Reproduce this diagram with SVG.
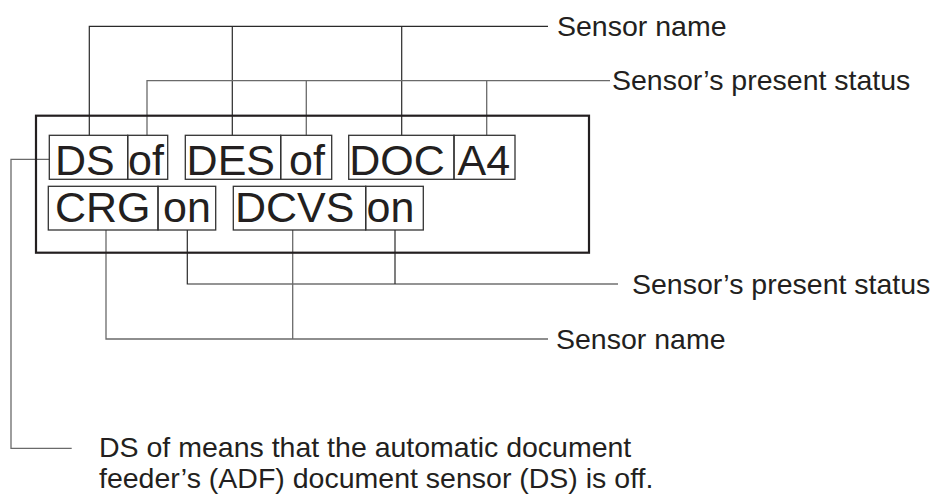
<svg xmlns="http://www.w3.org/2000/svg" width="936" height="502" viewBox="0 0 936 502">
<style>
.bg{fill:#ffffff}
.big{font-family:"Liberation Sans",Arial,sans-serif;font-size:43px;fill:#231f20}
.lbl{font-family:"Liberation Sans",Arial,sans-serif;font-size:28.5px;fill:#231f20}
.cell{fill:none;stroke:#333;stroke-width:1.3}
.frame{fill:none;stroke:#231f20;stroke-width:2.2}
.ln{fill:none;stroke:#2a2a2a;stroke-width:1.2}
.lg{fill:none;stroke:#6a6a6a;stroke-width:1.3}
</style>
<rect class="bg" x="0" y="0" width="936" height="502"/>
<g id="connectors">
  <path class="ln" d="M89.3,135.3 V26.3 H548 M232.3,26.3 V135.3 M401.7,26.3 V135.3"/>
  <path class="lg" d="M147,135.3 V80.7 H610 M306.3,80.7 V135.3 M486.7,80.7 V135.3"/>
  <path class="lg" d="M49.3,159.3 H11 V448.3 H71.7"/>
  <path class="ln" d="M187.3,230 V284 H618 M395,230 V284"/>
  <path class="lg" d="M106,230 V339 H548 M292.7,230 V339"/>
</g>
<g id="display">
  <rect class="frame" x="36" y="115.7" width="553" height="137"/>
</g>
<g id="ds">
  <rect class="cell" x="49.3" y="135.3" width="78.4" height="44"/>
  <text class="big" x="55" y="175">DS</text>
  <rect class="cell" x="127.7" y="135.3" width="40" height="44"/>
  <text class="big" x="128" y="175">of</text>
</g>
<g id="des">
  <rect class="cell" x="185.3" y="135.3" width="95.4" height="44"/>
  <text class="big" x="186.6" y="175">DES</text>
  <rect class="cell" x="280.7" y="135.3" width="51" height="44"/>
  <text class="big" x="289" y="175">of</text>
</g>
<g id="doc">
  <rect class="cell" x="348.7" y="135.3" width="105.3" height="44"/>
  <text class="big" x="349.3" y="175">DOC</text>
  <rect class="cell" x="454" y="135.3" width="61" height="44"/>
  <text class="big" x="457.5" y="175">A4</text>
</g>
<g id="crg">
  <rect class="cell" x="48.3" y="186.3" width="109.7" height="43.7"/>
  <text class="big" x="55" y="222">CRG</text>
  <rect class="cell" x="158" y="186.3" width="57.7" height="43.7"/>
  <text class="big" x="163" y="222">on</text>
</g>
<g id="dcvs">
  <rect class="cell" x="233.3" y="186.3" width="132.4" height="43.7"/>
  <text class="big" x="235" y="222">DCVS</text>
  <rect class="cell" x="365.7" y="186.3" width="57.6" height="43.7"/>
  <text class="big" x="366.6" y="222">on</text>
</g>
<g id="label-name-top"><text class="lbl" x="557" y="36">Sensor name</text></g>
<g id="label-status-top"><text class="lbl" x="612" y="90">Sensor’s present status</text></g>
<g id="label-status-bottom"><text class="lbl" x="632" y="294">Sensor’s present status</text></g>
<g id="label-name-bottom"><text class="lbl" x="556" y="349">Sensor name</text></g>
<g id="note">
  <text class="lbl" x="99" y="457">DS of means that the automatic document</text>
  <text class="lbl" x="99" y="488">feeder’s (ADF) document sensor (DS) is off.</text>
</g>
</svg>
